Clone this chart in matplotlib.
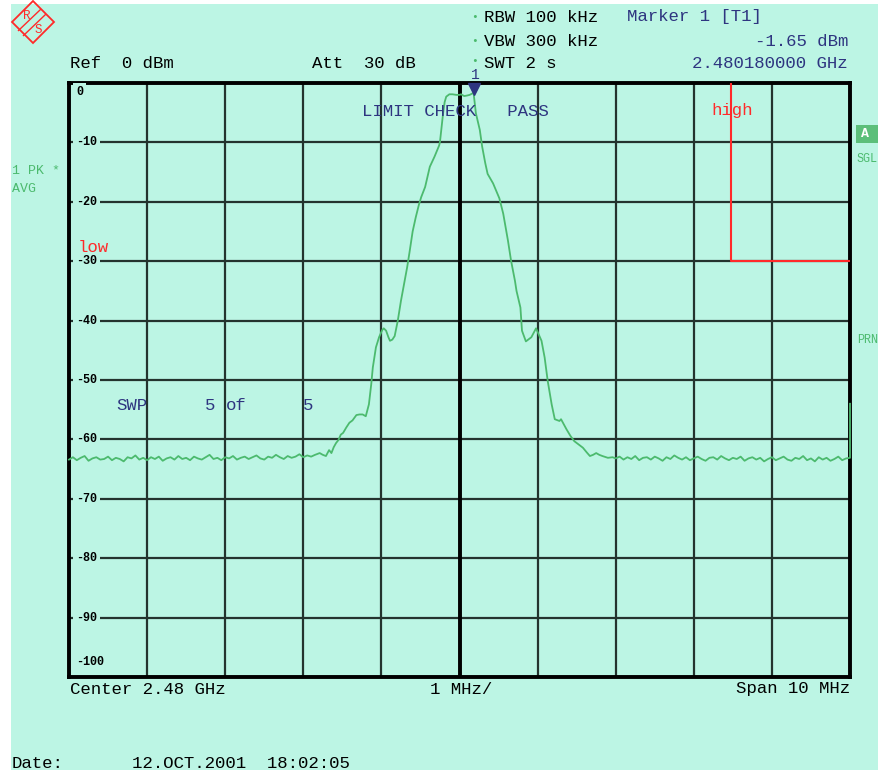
import numpy as np
import matplotlib
matplotlib.use("Agg")
import matplotlib.pyplot as plt
from matplotlib.patches import Rectangle, Polygon

W, H = 879, 770
BG = '#bcf5e4'
BLUE = '#2e3580'
GREEN = '#4cba6e'
RED = '#ff2a2a'
GRID = '#24332e'
MONO = 'Liberation Mono'

# sweep: offset from centre (MHz) -> level (dBm)
noise_left = [-63.4, -63.0, -63.5, -63.1, -62.8, -63.6, -63.2, -63.0, -63.4, -63.3,
              -62.9, -63.5, -63.1, -63.3, -63.7, -63.0, -63.2, -62.7, -63.4, -63.1,
              -63.5, -63.0, -63.3, -62.9, -63.6, -63.2, -63.0, -63.4, -62.8, -63.3,
              -63.1, -63.5, -62.9, -63.2, -63.4, -63.0, -62.6, -63.3, -63.1, -63.5,
              -63.0, -63.2, -62.8, -63.4, -63.1, -62.9, -63.3, -63.0, -62.7, -63.2,
              -63.4, -62.9, -63.1, -62.6, -63.0, -63.3, -62.8, -63.1, -62.9, -62.5,
              -63.0, -62.7, -62.9, -62.6]
noise_left_f = np.round(np.arange(-5.0, -1.825, 0.05), 2)

signal_f = [-1.79, -1.75, -1.71, -1.67, -1.64, -1.61, -1.58, -1.55, -1.52, -1.49,
            -1.45, -1.41, -1.37, -1.32, -1.28, -1.24, -1.20, -1.16, -1.13, -1.11,
            -1.07, -1.03, -0.99, -0.97, -0.94, -0.91, -0.89, -0.86, -0.83, -0.79,
            -0.75, -0.71, -0.67, -0.64, -0.60, -0.56, -0.52, -0.49, -0.44, -0.41,
            -0.38, -0.32, -0.26, -0.25, -0.23, -0.21, -0.19, -0.17, -0.13, -0.09,
            -0.04, 0.00, 0.02, 0.06, 0.10, 0.13, 0.18, 0.21, 0.26, 0.29,
            0.33, 0.36, 0.43, 0.51, 0.56, 0.62, 0.66, 0.71, 0.73, 0.78,
            0.80, 0.85, 0.92, 0.98, 1.05, 1.09, 1.13, 1.18, 1.22, 1.28,
            1.30, 1.37, 1.42, 1.47, 1.53, 1.58, 1.63, 1.67, 1.71, 1.75,
            1.79, 1.83, 1.90, 1.96]
signal_db = [-62.3, -62.6, -62.8, -61.8, -62.3, -61.3, -60.6, -60.1, -59.2, -58.9,
             -58.0, -57.2, -56.8, -55.9, -55.8, -55.8, -56.1, -54.1, -50.7, -47.9,
             -44.5, -42.8, -41.6, -41.3, -41.7, -42.8, -43.4, -43.2, -42.6, -40.0,
             -36.7, -33.8, -31.0, -28.5, -25.0, -22.6, -20.5, -19.2, -17.5, -15.8,
             -14.1, -12.4, -10.5, -9.9, -7.5, -5.1, -3.2, -2.3, -1.9, -1.9,
             -2.0, -2.0, -1.9, -2.2, -2.1, -2.0, -1.65, -5.1, -7.9, -10.7,
             -13.5, -15.3, -16.9, -19.4, -22.0, -26.5, -29.9, -33.3, -35.0, -37.8,
             -41.7, -43.5, -42.8, -41.3, -43.4, -46.2, -50.2, -54.1, -56.6, -56.9,
             -56.6, -58.3, -59.4, -60.3, -60.9, -61.4, -62.2, -62.8, -62.6, -62.3,
             -62.6, -62.8, -63.1, -63.0]

noise_right = [-63.2, -62.9, -63.4, -63.0, -63.3, -62.8, -63.5, -63.1, -63.0, -63.4,
               -62.9, -63.2, -63.6, -63.0, -63.3, -62.7, -63.1, -63.4, -63.0, -63.5,
               -63.2, -62.9, -63.3, -63.6, -63.1, -63.0, -63.4, -62.8, -63.2, -63.5,
               -63.1, -63.3, -62.9, -63.6, -63.2, -63.0, -63.4, -63.1, -63.7, -63.3,
               -63.0, -63.5, -63.2, -62.9, -63.4, -63.6, -63.1, -63.3, -62.8, -63.5,
               -63.2, -63.7, -63.0, -63.4, -63.1, -63.6, -63.3, -62.9, -63.5, -63.2]
noise_right_f = np.round(np.arange(2.0, 4.975, 0.05), 2)

end_f = [5.0, 5.0]
end_db = [-63.1, -54.0]

marker_f, marker_db = 0.18, -1.65
limit_f = [3.48, 3.48, 5.0]
limit_db = [0.0, -30.0, -30.0]
level_ticks = [0, -10, -20, -30, -40, -50, -60, -70, -80, -90, -100]

freq = np.concatenate([noise_left_f, signal_f, noise_right_f, end_f])
level = np.concatenate([noise_left, signal_db, noise_right, end_db])


def px(x, y):
    return x / W, 1 - y / H


fig = plt.figure(figsize=(W / 100, H / 100), dpi=100, facecolor='white')
fig.add_artist(Rectangle(px(11, H), 1, 1 - 4 / H, transform=fig.transFigure,
                         facecolor=BG, edgecolor='none', zorder=0))

ax = fig.add_axes([69 / W, 1 - 677 / H, (850 - 69) / W, (677 - 83) / H])
ax.set_facecolor(BG)
ax.set_xlim(-5, 5)
ax.set_ylim(-100, 0)
ax.set_xticks(np.arange(-5, 6))
ax.set_yticks(level_ticks)
ax.tick_params(length=0, labelleft=False, labelbottom=False)
ax.grid(True, color=GRID, lw=1.6)
ax.axvline(0, color='black', lw=2.8, zorder=2)
for s in ax.spines.values():
    s.set_linewidth(2.8)
    s.set_color('black')

# level labels sit inside the graticule, cut into the grid lines
for v in level_ticks:
    lab = '0' if v == 0 else str(v)
    yy = v
    if v == 0:
        yy = -1.5
    elif v == -100:
        yy = -97.5
    ax.text(0.0095, yy, lab, transform=ax.get_yaxis_transform(), family=MONO,
            fontsize=8.5, fontweight='bold', va='center', ha='left', zorder=3,
            bbox=dict(facecolor=BG, edgecolor='none', pad=2.2))

ax.plot(limit_f, limit_db, color=RED, lw=1.5, zorder=4)
ax.plot(freq, level, color=GREEN, lw=1.3, zorder=5, clip_on=False)
ax.plot(marker_f, -1.0, marker='v', color=BLUE, ms=9, zorder=6, clip_on=False)

# screen annotations
def txt(x, y, s, color='black', ha='left', size=12.5, **kw):
    fig.text(*px(x, y), s, color=color, ha=ha, va='center', family=MONO,
             fontsize=size, **kw)

txt(471, 17, '•', GREEN, size=8)
txt(484, 17, 'RBW 100 kHz')
txt(627, 17, 'Marker 1 [T1]', BLUE)
txt(471, 41, '•', GREEN, size=8)
txt(484, 41, 'VBW 300 kHz')
txt(848, 41, '-1.65 dBm', BLUE, ha='right')
txt(70, 63, 'Ref  0 dBm')
txt(312, 63, 'Att  30 dB')
txt(471, 61, '•', GREEN, size=8)
txt(484, 63, 'SWT 2 s')
txt(848, 63, '2.480180000 GHz', BLUE, ha='right')
txt(471, 75, '1', BLUE, size=10.5)

txt(362, 111, 'LIMIT CHECK   PASS', BLUE)
txt(711, 111, 'high', RED)
txt(78, 247, 'low', RED)
txt(116, 405, 'SWP', BLUE)
txt(205, 405, '5', BLUE)
txt(226, 405, 'of', BLUE)
txt(303, 405, '5', BLUE)

txt(12, 171, '1 PK *', GREEN, size=9.5)
txt(12, 189, 'AVG', GREEN, size=9.5)
fig.add_artist(Rectangle(px(856, 143), 30 / W, 18 / H, transform=fig.transFigure,
                         facecolor='#5cbf7a', edgecolor='none'))
txt(861, 134, 'A', 'white', size=9.5, fontweight='bold')
txt(857, 159, 'SGL', GREEN, size=8.5)
txt(857, 340, 'PRN', GREEN, size=8.5)

txt(70, 689, 'Center 2.48 GHz')
txt(430, 689, '1 MHz/')
txt(850, 689, 'Span 10 MHz', ha='right')
txt(12, 763, 'Date:')
txt(132, 763, '12.OCT.2001  18:02:05')

# R&S badge
cx, cy, r = 33, 22, 21
fig.add_artist(Polygon([px(cx, cy - r), px(cx + r, cy), px(cx, cy + r), px(cx - r, cy)],
                       closed=True, fill=False, edgecolor=RED, lw=1.3,
                       transform=fig.transFigure))
for d in (-2.5, 2.5):
    fig.add_artist(plt.Line2D([px(21 + d, 33 + d)[0], px(43 + d, 12 + d)[0]],
                              [px(21 + d, 33 + d)[1], px(43 + d, 12 + d)[1]],
                              color=RED, lw=1.0, transform=fig.transFigure))
fig.text(*px(27, 16), 'R', color=RED, fontsize=9, ha='center', va='center', family=MONO)
fig.text(*px(38, 30), 'S', color=RED, fontsize=9, ha='center', va='center', family=MONO)

fig.savefig('out.png', dpi=100, facecolor='white')
